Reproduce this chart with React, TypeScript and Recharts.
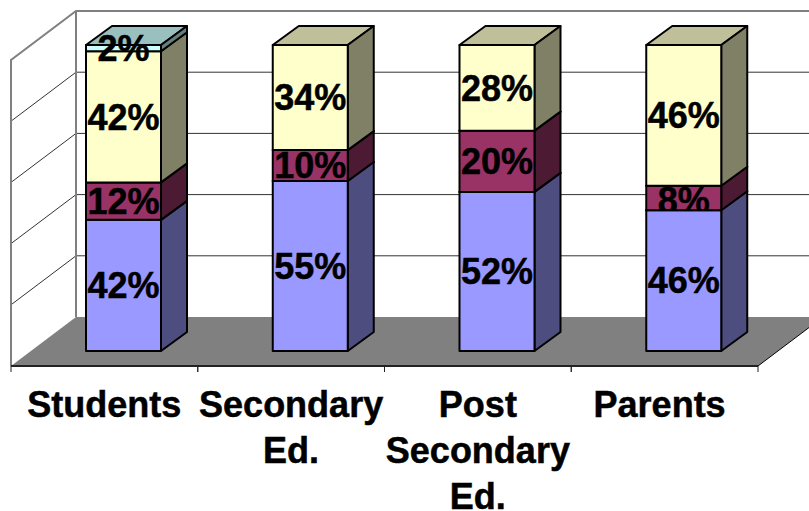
import React from "react";
import { BarChart, Bar, XAxis, YAxis, CartesianGrid, LabelList, ReferenceArea } from "recharts";

const categories = ["Students", "Secondary Ed.", "Post Secondary Ed.", "Parents"];
const firstValues = [42, 55, 52, 46];
const secondValues = [12, 10, 20, 8];
const thirdValues = [42, 34, 28, 46];
const fourthValues = [2, null, null, null];
const yTicks = [0, 0.2, 0.4, 0.6, 0.8, 1];

const WIDTH = 809;
const HEIGHT = 511;
const FONT = "'Liberation Sans', Arial, sans-serif";
const FONT_SIZE = 36;

// Plot rectangle is the plane of the bar fronts; the room extends around it in perspective.
const AXIS_HEIGHT = 30;
const MARGIN = { top: 45, right: 32, bottom: 130, left: 30 };
const PLOT_LEFT = MARGIN.left;
const PLOT_RIGHT = WIDTH - MARGIN.right;
const PLOT_TOP = MARGIN.top;
const PLOT_BOTTOM = HEIGHT - MARGIN.bottom - AXIS_HEIGHT;
const BAND = (PLOT_RIGHT - PLOT_LEFT) / categories.length;

// Offsets from the bar-front plane to the room's front edge and back wall.
const FRONT_DX = -19;
const FRONT_DY = 15;
const BACK_DX = 46;
const BACK_DY = -34;
// Depth of each bar.
const BAR_DX = 26;
const BAR_DY = -19;

const rows = categories.map((name, i) => ({
  name,
  first: firstValues[i],
  second: secondValues[i],
  third: thirdValues[i],
  fourth: fourthValues[i],
}));

const pct = (v: unknown) => (v == null ? "" : `${v}%`);

function Box(props: any) {
  const { x, y, width, height, front, side, top } = props;
  if (!height || height <= 0) return null;
  const r = x + width;
  const b = y + height;
  const stroke = { stroke: "#000", strokeWidth: 2, strokeLinejoin: "round" as const };
  return (
    <g>
      <polygon
        points={`${x},${y} ${x + BAR_DX},${y + BAR_DY} ${r + BAR_DX},${y + BAR_DY} ${r},${y}`}
        fill={top}
        {...stroke}
      />
      <polygon
        points={`${r},${y} ${r + BAR_DX},${y + BAR_DY} ${r + BAR_DX},${b + BAR_DY} ${r},${b}`}
        fill={side}
        {...stroke}
      />
      <rect x={x} y={y} width={width} height={height} fill={front} {...stroke} />
    </g>
  );
}

// Walls, floor and the front axis line of the 3D room.
function Room(props: any) {
  const { x, y, width, height } = props;
  const right = x + width;
  const bottom = y + height;
  const fl = x + FRONT_DX;
  const fr = right + FRONT_DX;
  const fb = bottom + FRONT_DY;
  const bl = x + BACK_DX;
  const br = right + BACK_DX;
  const bb = bottom + BACK_DY;
  const bt = y + BACK_DY;
  const ft = y + FRONT_DY;
  return (
    <g>
      <polyline
        points={`${fl},${fb} ${fl},${ft} ${bl},${bt} ${br},${bt}`}
        fill="none"
        stroke="#808080"
        strokeWidth={2}
      />
      <line x1={bl} y1={bt} x2={bl} y2={bb} stroke="#808080" strokeWidth={2} />
      <polygon points={`${fl},${fb} ${bl},${bb} ${br},${bb} ${fr},${fb}`} fill="#808080" />
      <line x1={fr} y1={fb} x2={br} y2={bb} stroke="#000" strokeWidth={1} />
      <line x1={fl} y1={fb} x2={fr} y2={fb} stroke="#222" strokeWidth={2} />
    </g>
  );
}

// Grid line bent around the corner of the side wall and the back wall.
function WallLine(props: any) {
  const y = props.y1;
  if (Math.abs(y - PLOT_TOP) < 1 || Math.abs(y - PLOT_BOTTOM) < 1) return <g />;
  return (
    <polyline
      points={`${PLOT_LEFT + FRONT_DX},${y + FRONT_DY} ${PLOT_LEFT + BACK_DX},${y + BACK_DY} ${PLOT_RIGHT + BACK_DX},${y + BACK_DY}`}
      fill="none"
      stroke="#333"
      strokeWidth={1}
    />
  );
}

function CategoryTick(props: any) {
  const { x, payload, index } = props;
  const band = x + FRONT_DX;
  // The single-line last category sits slightly left of its band centre.
  const cx = index === categories.length - 1 ? band - 5 : band;
  const axisY = PLOT_BOTTOM + FRONT_DY;
  const lines = String(payload.value).split(" ");
  return (
    <g>
      <line x1={band - BAND / 2} y1={axisY} x2={band - BAND / 2} y2={axisY + 6} stroke="#222" strokeWidth={1} />
      <line x1={band + BAND / 2} y1={axisY} x2={band + BAND / 2} y2={axisY + 6} stroke="#222" strokeWidth={1} />
      <text textAnchor="middle" fontFamily={FONT} fontWeight="bold" fontSize={FONT_SIZE} fill="#000" stroke="#000" strokeWidth={0.5}>
        {lines.map((line, i) => (
          <tspan key={i} x={cx} y={417 + i * 46}>
            {line}
          </tspan>
        ))}
      </text>
    </g>
  );
}

const labelStyle = {
  fontFamily: FONT,
  fontWeight: "bold" as const,
  fontSize: FONT_SIZE,
  fill: "#000",
  stroke: "#000",
  strokeWidth: 0.5,
};

// Label that stays inside its own segment; a segment shorter than the digits cuts their lower edge.
function ClippedLabel(props: any) {
  const { x, y, width, height, value, index } = props;
  const id = `segment-label-${index}`;
  const cy = y + height / 2 + (height < FONT_SIZE * 0.72 ? 2 : 0);
  return (
    <g clipPath={`url(#${id})`}>
      <clipPath id={id}>
        <rect x={x - 20} y={y} width={width + 40} height={height} />
      </clipPath>
      <text x={x + width / 2} y={cy + FONT_SIZE * 0.355} textAnchor="middle" style={labelStyle}>
        {pct(value)}
      </text>
    </g>
  );
}

export default function App() {
  return (
    <div style={{ position: "absolute", left: 0, top: 0 }}>
      <BarChart
        width={WIDTH}
        height={HEIGHT}
        data={rows}
        margin={MARGIN}
        stackOffset="expand"
        barSize={75}
      >
        <ReferenceArea y1={0} y2={1} shape={Room} ifOverflow="visible" />
        <CartesianGrid vertical={false} horizontal={WallLine} horizontalValues={yTicks} />
        <XAxis
          dataKey="name"
          height={AXIS_HEIGHT}
          axisLine={false}
          tickLine={false}
          tick={CategoryTick}
          interval={0}
        />
        <YAxis hide domain={[0, 1]} ticks={yTicks} />
        <Bar
          dataKey="first"
          stackId="s"
          isAnimationActive={false}
          shape={(p: any) => <Box {...p} front="#9999FF" side="#4D4D80" top="#7373BF" />}
        >
          <LabelList dataKey="first" position="center" formatter={pct} style={labelStyle} />
        </Bar>
        <Bar
          dataKey="second"
          stackId="s"
          isAnimationActive={false}
          shape={(p: any) => <Box {...p} front="#993366" side="#4D1A33" top="#73264D" />}
        >
          <LabelList dataKey="second" content={ClippedLabel} />
        </Bar>
        <Bar
          dataKey="third"
          stackId="s"
          isAnimationActive={false}
          shape={(p: any) => <Box {...p} front="#FFFFCC" side="#808066" top="#BFBF99" />}
        >
          <LabelList dataKey="third" position="center" formatter={pct} style={labelStyle} />
        </Bar>
        <Bar
          dataKey="fourth"
          stackId="s"
          isAnimationActive={false}
          shape={(p: any) => <Box {...p} front="#CCFFFF" side="#668080" top="#99BFBF" />}
        >
          <LabelList dataKey="fourth" position="center" formatter={pct} style={labelStyle} />
        </Bar>
      </BarChart>
    </div>
  );
}
